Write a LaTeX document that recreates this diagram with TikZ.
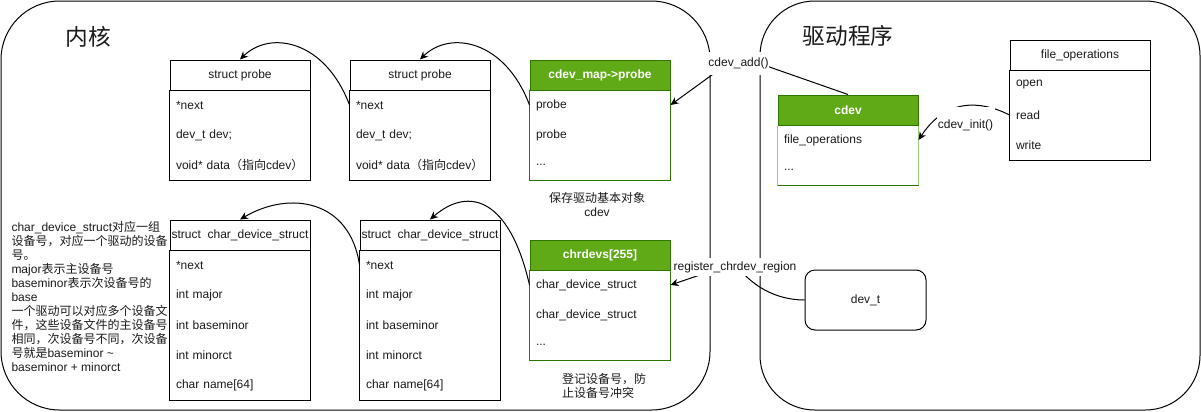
\documentclass[tikz,border=0pt]{standalone}
\usepackage{fontspec}
\setmainfont{Liberation Sans}
\newfontfamily\cjk{Noto Sans CJK SC}
\newcommand\zh[1]{{\cjk #1}}
\usetikzlibrary{arrows.meta}
\definecolor{gfill}{HTML}{60A917}
\definecolor{gline}{HTML}{2D7600}
\definecolor{glight}{HTML}{97D077}
\definecolor{txt}{HTML}{1A1A1A}
\begin{document}
\begin{tikzpicture}[x=0.75pt,y=-0.75pt,line width=0.75pt,
  every node/.style={font=\fontsize{9}{10.5}\selectfont, text=txt},
  hdr/.style={draw, rectangle, minimum width=105pt, minimum height=22.5pt, inner sep=0pt},
  ghdr/.style={hdr, fill=gfill, draw=gline, text=white, font=\fontsize{9}{10.5}\selectfont\bfseries},
  fieldrow/.style={rectangle, minimum height=22.5pt, text width=96pt, inner xsep=4.5pt, inner ysep=0pt, align=left},
  lbl/.style={fill=white, inner sep=0pt},
  conn/.style={-{Stealth[length=6pt,width=5.5pt]}},
  title/.style={font=\cjk\fontsize{17}{20}\selectfont}
  ]
\useasboundingbox (0,0) rectangle (1201,411);

% containers
\draw[rounded corners=44pt] (1,1) rectangle (710,410);
\draw[rounded corners=41pt] (760,1) rectangle (1200,410);
\node[title] (tk) at (88,37) {内核};
\node[title] (td) at (848,36) {驱动程序};

% struct probe 1
\node[hdr] (p1h) at (240,75) {struct probe};
\node[fieldrow] (p1r1) at (240,105) {*next};
\node[fieldrow] (p1r2) at (240,135) {dev\_t dev;};
\node[fieldrow] (p1r3) at (240,165) {void* data\zh{（指向}cdev\zh{）}};
\draw (p1h.south west) rectangle (p1r3.south east);

% struct probe 2
\node[hdr] (p2h) at (420,75) {struct probe};
\node[fieldrow] (p2r1) at (420,105) {*next};
\node[fieldrow] (p2r2) at (420,135) {dev\_t dev;};
\node[fieldrow] (p2r3) at (420,165) {void* data\zh{（指向}cdev\zh{）}};
\draw (p2h.south west) rectangle (p2r3.south east);

% cdev_map->probe
\node[ghdr] (mh) at (600,75) {cdev\_map->probe};
\node[fieldrow] (mr1) at (600,105) {probe};
\node[fieldrow] (mr2) at (600,135) {probe};
\node[fieldrow] (mr3) at (600,165) {...};
\draw[gline] (mh.south west) rectangle (mr3.south east);
\node[align=center] (note1) at (597,204) {\zh{保存驱动基本对象}\\cdev};

% char_device_struct 1
\node[hdr] (q1h) at (240,235) {struct\ \ char\_device\_struct};
\node[fieldrow] (q1r1) at (240,265) {*next};
\node[fieldrow] (q1r2) at (240,295) {int major};
\node[fieldrow] (q1r3) at (240,325) {int baseminor};
\node[fieldrow] (q1r4) at (240,355) {int minorct};
\node[fieldrow] (q1r5) at (240,385) {char name[64]};
\draw (q1h.south west) rectangle (q1r5.south east);

% char_device_struct 2
\node[hdr] (q2h) at (430,235) {struct\ \ char\_device\_struct};
\node[fieldrow] (q2r1) at (430,265) {*next};
\node[fieldrow] (q2r2) at (430,295) {int major};
\node[fieldrow] (q2r3) at (430,325) {int baseminor};
\node[fieldrow] (q2r4) at (430,355) {int minorct};
\node[fieldrow] (q2r5) at (430,385) {char name[64]};
\draw (q2h.south west) rectangle (q2r5.south east);

% chrdevs[255]
\node[ghdr] (ch) at (600,255) {chrdevs[255]};
\node[fieldrow] (cr1) at (600,285) {char\_device\_struct};
\node[fieldrow] (cr2) at (600,315) {char\_device\_struct};
\node[fieldrow] (cr3) at (600,345) {...};
\draw[gline] (ch.south west) rectangle (cr3.south east);
\node[align=left] (note2) at (604,386) {\zh{登记设备号，防}\\\zh{止设备号冲突}};

% left note
\node[anchor=north west, align=left, inner sep=0pt] (note3) at (11,221)
 {char\_device\_struct\zh{对应一组}\\
  \zh{设备号，对应一个驱动的设备}\\
  \zh{号。}\\
  major\zh{表示主设备号}\\
  baseminor\zh{表示次设备号的}\\
  base\\
  \zh{一个驱动可以对应多个设备文}\\
  \zh{件，这些设备文件的主设备号}\\
  \zh{相同，次设备号不同，次设备}\\
  \zh{号就是}baseminor \textasciitilde\\
  baseminor + minorct};

% cdev
\node[ghdr] (cdh) at (848,110) {cdev};
\node[fieldrow] (cdr1) at (848,140) {file\_operations};
\node[fieldrow] (cdr2) at (848,170) {...};
\draw[glight] (cdh.south west) -- (cdr2.south west);
\draw[glight] (cdh.south east) -- (cdr2.south east);
\draw[gline] (cdr2.south west) -- (cdr2.south east);

% file_operations
\node[hdr] (fh) at (1080,55) {file\_operations};
\node[fieldrow] (fr1) at (1080,85) {open};
\node[fieldrow] (fr2) at (1080,115) {read};
\node[fieldrow] (fr3) at (1080,145) {write};
\draw (fh.south west) rectangle (fr3.south east);

% dev_t
\node[draw, rounded corners=7.5pt, minimum width=90.75pt, minimum height=45pt] (dev) at (865.5,300) {dev\_t};

% connectors between structs
\draw[conn] (mr1.west) .. controls (505,40) and (450,30) .. (p2h.north);
\draw[conn] (p2r1.west) .. controls (325,40) and (270,30) .. (p1h.north);
\draw[conn] (cr1.west) .. controls (510,200) and (470,185) .. (q2h.north);
\draw[conn] (q2r1.west) .. controls (350,200) and (290,190) .. (q1h.north);

% cdev_add()
\coordinate (addpt) at (738,56);
\draw[conn] (cdh.north) -- (addpt) -- (mr1.east);
\node[lbl, minimum height=17pt, inner xsep=0.5pt] (addl) at (738.5,63.5) {cdev\_add()};

% register_chrdev_region
\coordinate (regpt) at (735,263);
\draw[conn] (dev.west) .. controls (775,300) and (750,285) .. (regpt) -- (cr1.east);
\node[lbl, minimum height=13.5pt, inner xsep=1pt] (regl) at (735,267) {register\_chrdev\_region};

% cdev_init()
\draw[conn] (fr2.west) .. controls (990,105) and (950,92) .. (cdr1.east);
\node[lbl, minimum width=43.5pt, minimum height=27.75pt] (initl) at (965.5,125) {cdev\_init()};
\end{tikzpicture}
\end{document}
